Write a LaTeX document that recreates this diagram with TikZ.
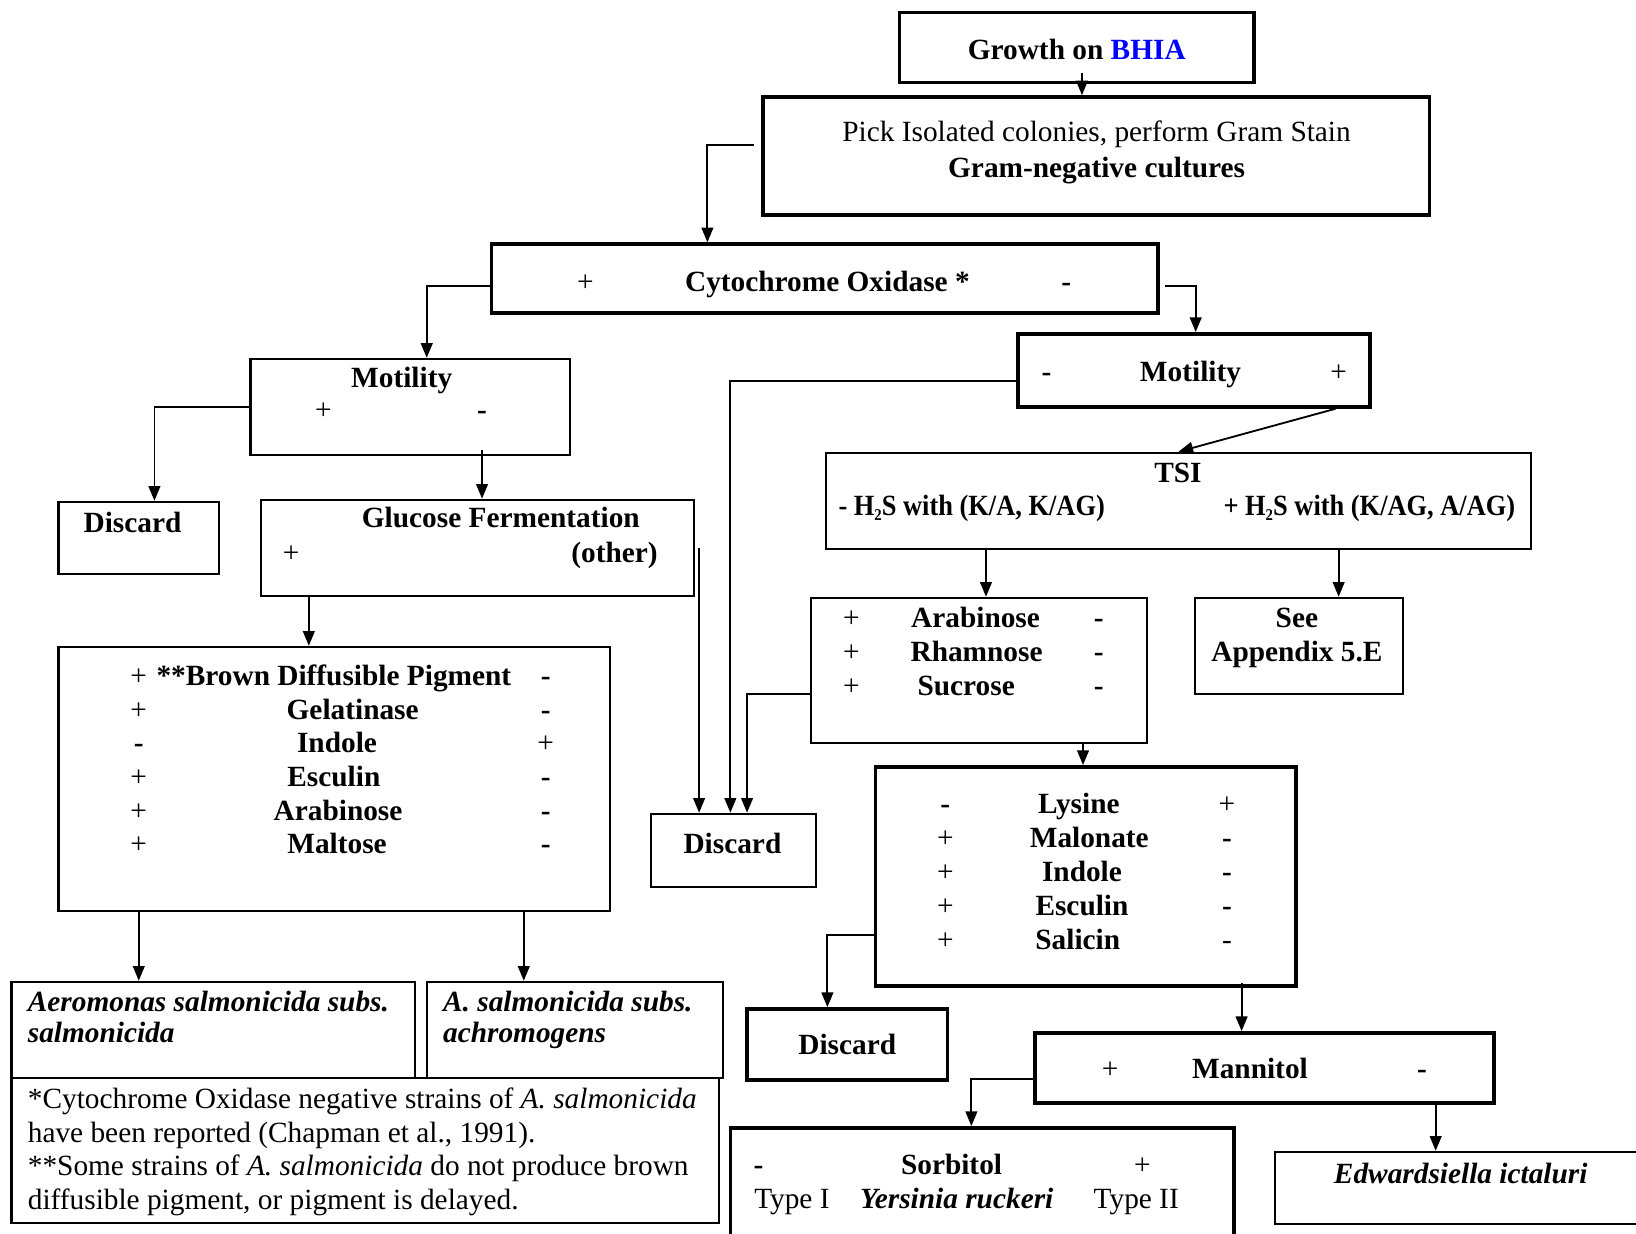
\documentclass[tikz,border=0pt]{standalone}
\usepackage{fontspec}
\setmainfont{Liberation Serif}
\usetikzlibrary{arrows.meta,fit}
\newcommand{\mns}{\textbf{-}}
\newcommand{\hts}{H\raisebox{-.35ex}{\fontsize{4.5pt}{5pt}\selectfont 2}S}

\begin{document}
\begin{tikzpicture}[x=0.1mm, y=-0.1mm,
    every node/.style={font=\fontsize{8pt}{9.2pt}\selectfont},
    thinbox/.style={draw, line width=0.6pt, inner sep=0pt},
    thickbox/.style={draw, line width=1pt, inner sep=0pt},
    lbl/.style={inner sep=0pt, anchor=base, yshift=-0.2mm},
    lbll/.style={inner sep=0pt, anchor=base west, yshift=-0.2mm},
    arr/.style={line width=0.5pt, -{Triangle[length=4pt,width=3.2pt]}}]
\useasboundingbox (0,0) rectangle (1568,1182);
\clip (0,0) rectangle (1568,1182);
% Boxes
\node[thickbox, fit={(862,12) (1202,79)}] (growth) {};
\node[thickbox, fit={(731,93) (1370,206)}] (pick) {};
\node[thickbox, fit={(471,234) (1110,300)}] (cyto) {};
\node[thinbox, fit={(240,344) (546,436)}] (motL) {};
\node[thinbox, fit={(56,481) (210,550)}] (disc1) {};
\node[thinbox, fit={(250,479) (665,571)}] (gluc) {};
\node[thinbox, fit={(56,620) (585,873)}] (brown) {};
\node[thinbox, fit={(11,941) (398,1033)}] (aero) {};
\node[thinbox, fit={(409,941) (693,1033)}] (achro) {};
\node[thinbox, fit={(11,1033) (689,1172)}] (foot) {};
\node[thickbox, fit={(976,320) (1313,390)}] (motR) {};
\node[thinbox, fit={(792,434) (1467,526)}] (tsi) {};
\node[thinbox, fit={(777,573) (1099,712)}] (arab) {};
\node[thinbox, fit={(1145,573) (1345,665)}] (see) {};
\node[thinbox, fit={(624,780) (782,850)}] (disc2) {};
\node[thickbox, fit={(839,735) (1242,945)}] (lys) {};
\node[thickbox, fit={(716,967) (908,1035)}] (disc3) {};
\node[thickbox, fit={(992,990) (1432,1057)}] (mann) {};
\node[thickbox, fit={(700,1081) (1183,1220)}] (sorb) {};
\node[thinbox, fit={(1222,1104) (1600,1173)}] (edw) {};
% Texts
\node[lbl] (growthT) at (1032,55) {\textbf{Growth on \textcolor{blue}{BHIA}}};
\node[lbl] (pickA) at (1051,134) {Pick Isolated colonies, perform Gram Stain};
\node[lbl] (pickB) at (1051,168) {\textbf{Gram-negative cultures}};
\node[lbl] (cytoP) at (561,277) {+};
\node[lbl] (cytoT) at (793,277) {\textbf{Cytochrome Oxidase *}};
\node[lbl] (cytoM) at (1022,277) {\mns};
\node[lbl] (motLT) at (385,369) {\textbf{Motility}};
\node[lbl] (motLP) at (310,400) {+};
\node[lbl] (motLM) at (462,400) {\mns};
\node[lbl] (disc1T) at (127,508) {\textbf{Discard}};
\node[lbl] (glucT) at (480,504) {\textbf{Glucose Fermentation}};
\node[lbl] (glucP) at (279,537) {+};
\node[lbl] (glucO) at (589,537) {\textbf{(other)}};
\foreach \l/\t/\x/\r [count=\i] in {+/**Brown Diffusible Pigment/320/\mns,
    +/Gelatinase/338/\mns, \mns/Indole/323/+, +/Esculin/320/\mns,
    +/Arabinose/324/\mns, +/Maltose/323/\mns}{
  \node[lbl] (brL\i) at (133,623+32.2*\i) {\l};
  \node[lbl] (brT\i) at (\x,623+32.2*\i) {\textbf{\t}};
  \node[lbl] (brR\i) at (523,623+32.2*\i) {\r};
}
\node[lbll] (aeroA) at (26,967) {\textbf{\textit{Aeromonas salmonicida subs.}}};
\node[lbll] (aeroB) at (26,997) {\textbf{\textit{salmonicida}}};
\node[lbll] (achroA) at (424,967) {\textbf{\textit{A. salmonicida subs.}}};
\node[lbll] (achroB) at (424,997) {\textbf{\textit{achromogens}}};
\node[lbll] (footA) at (26,1060) {*Cytochrome Oxidase negative strains of \textit{A. salmonicida}};
\node[lbll] (footB) at (26,1093) {have been reported (Chapman et al., 1991).};
\node[lbll] (footC) at (26,1125) {**Some strains of \textit{A. salmonicida} do not produce brown};
\node[lbll] (footD) at (26,1157) {diffusible pigment, or pigment is delayed.};
\node[lbl] (motRM) at (1003,364) {\mns};
\node[lbl] (motRT) at (1141,364) {\textbf{Motility}};
\node[lbl] (motRP) at (1283,364) {+};
\node[lbl] (tsiT) at (1129,460) {\textbf{TSI}};
\node[lbll] (tsiM) at (803,492) {\scalebox{0.9}[1]{\textbf{- \hts{} with (K/A, K/AG)}}};
\node[lbll] (tsiP) at (1172,492) {\scalebox{0.9}[1]{\textbf{+ \hts{} with (K/AG, A/AG)}}};
\foreach \t/\x [count=\i] in {Arabinose/935, Rhamnose/936, Sucrose/926}{
  \node[lbl] (arL\i) at (816,566+33*\i) {+};
  \node[lbl] (arT\i) at (\x,566+33*\i) {\textbf{\t}};
  \node[lbl] (arR\i) at (1053,566+33*\i) {\mns};
}
\node[lbl] (seeA) at (1243,599) {\textbf{See}};
\node[lbl] (seeB) at (1243,632) {\textbf{Appendix 5.E}};
\node[lbl] (disc2T) at (702,816) {\textbf{Discard}};
\foreach \l/\t/\x/\r [count=\i] in {\mns/Lysine/1034/+, +/Malonate/1044/\mns,
    +/Indole/1037/\mns, +/Esculin/1037/\mns, +/Salicin/1033/-}{
  \node[lbl] (lyL\i) at (906,745.5+32.5*\i) {\l};
  \node[lbl] (lyT\i) at (\x,745.5+32.5*\i) {\textbf{\t}};
  \node[lbl] (lyR\i) at (1176,745.5+32.5*\i) {\r};
}
\node[lbl] (disc3T) at (812,1009) {\textbf{Discard}};
\node[lbl] (mannP) at (1064,1032) {+};
\node[lbl] (mannT) at (1198,1032) {\textbf{Mannitol}};
\node[lbl] (mannM) at (1363,1032) {\mns};
\node[lbl] (sorbM) at (727,1124) {\mns};
\node[lbl] (sorbT) at (912,1124) {\textbf{Sorbitol}};
\node[lbl] (sorbP) at (1095,1124) {+};
\node[lbl] (sorbA) at (759,1156) {Type I};
\node[lbl] (sorbY) at (917,1156) {\textbf{\textit{Yersinia ruckeri}}};
\node[lbl] (sorbB) at (1089,1156) {Type II};
\node[lbl] (edwT) at (1400,1132) {\textbf{\textit{Edwardsiella ictaluri}}};
% Edges
\draw[arr] ([xshift=.5mm,yshift=1.1mm]growth.south) -- ([xshift=.5mm]growth.south |- pick.north);
\draw[arr] ([xshift=-.7mm,yshift=1.05mm]pick.west) -| ([xshift=-11.25mm]cyto.north);
\draw[arr] ([yshift=-.7mm]cyto.west) -| ([xshift=1.6mm]motL.north);
\draw[arr] ([xshift=.5mm,yshift=-.7mm]cyto.east) -| ([xshift=.15mm]motR.north);
\draw[arr] (motL.west) -| ([xshift=1.5mm]disc1.north);
\draw[arr] ([xshift=.45mm,yshift=.6mm]gluc.north |- motL.south) -- ([xshift=.45mm]gluc.north);
\draw[arr] ([xshift=.4mm]gluc.east) -- ([xshift=.4mm]gluc.east |- disc2.north);
\draw[arr] ([xshift=-2.45mm]brown.north |- gluc.south) -- ([xshift=-2.45mm]brown.north);
\draw[arr] ([xshift=-7.15mm]aero.north |- brown.south) -- ([xshift=-7.15mm]aero.north);
\draw[arr] ([xshift=-4.9mm]achro.north |- brown.south) -- ([xshift=-4.9mm]achro.north);
\draw[arr] ([yshift=-1mm]motR.west) -| ([xshift=-.3mm]disc2.north);
\draw[arr] ([xshift=13.55mm]motR.south) -- (tsi.north);
\draw[arr] ([xshift=.7mm]arab.north |- tsi.south) -- ([xshift=.7mm]arab.north);
\draw[arr] ([xshift=3.8mm]see.north |- tsi.south) -- ([xshift=3.8mm]see.north);
\draw[arr] ([yshift=-2.25mm]arab.west) -| ([xshift=1.3mm]disc2.north);
\draw[arr] ([xshift=-.25mm]lys.north |- arab.south) -- ([xshift=-.25mm]lys.north);
\draw[arr] ([yshift=-5.6mm]lys.west) -| ([xshift=-1.9mm]disc3.north);
\draw[arr] ([xshift=-2.2mm,yshift=.5mm]mann.north |- lys.south) -- ([xshift=-2.2mm]mann.north);
\draw[arr] ([yshift=-1.05mm]mann.west) -| ([xshift=-1.05mm]sorb.north);
\draw[arr] ([xshift=-3.5mm]edw.north |- mann.south) -- ([xshift=-3.5mm]edw.north);
\end{tikzpicture}
\end{document}
